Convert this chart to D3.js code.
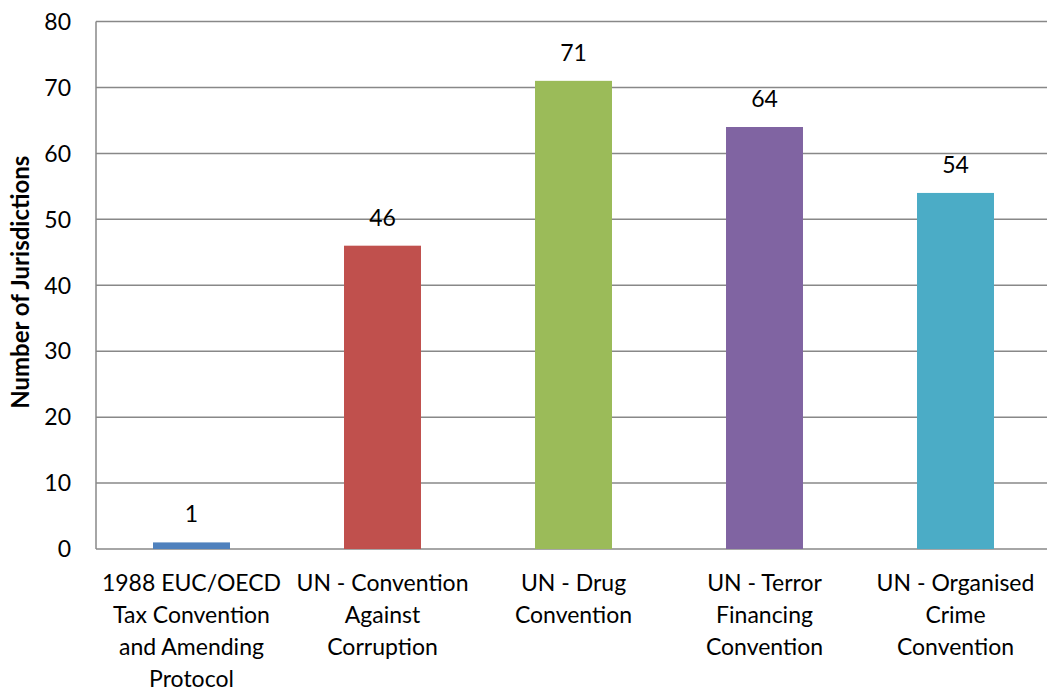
<!DOCTYPE html>
<html>
<head>
<meta charset="utf-8">
<script src="https://cdn.jsdelivr.net/npm/d3@7"></script>
<style>
  body { margin: 0; background: #fff; }
  text { font-family: Lato, "Open Sans", sans-serif; fill: #000; }
</style>
</head>
<body>
<svg id="chart"></svg>
<script>
const categories = [
  ["1988 EUC/OECD", "Tax Convention", "and Amending", "Protocol"],
  ["UN - Convention", "Against", "Corruption"],
  ["UN - Drug", "Convention"],
  ["UN - Terror", "Financing", "Convention"],
  ["UN - Organised", "Crime", "Convention"]
];
const values = [1, 46, 71, 64, 54];
const colors = ["#4f81bd", "#c0504d", "#9bbb59", "#8064a2", "#4bacc6"];
const yTicks = [0, 10, 20, 30, 40, 50, 60, 70, 80];

const width = 1047, height = 690;
const margin = { left: 96, top: 21.5, right: -4, bottom: 141 };

const svg = d3.select("#chart").attr("width", width).attr("height", height);

const x = d3.scaleBand()
  .domain(d3.range(values.length))
  .range([margin.left, width - margin.right])
  .padding(0);

const y = d3.scaleLinear()
  .domain([0, 80])
  .range([height - margin.bottom, margin.top]);

const barW = x.bandwidth() * 0.403;

// Gridlines
svg.append("g")
  .selectAll("line")
  .data(yTicks)
  .enter().append("line")
  .attr("x1", margin.left)
  .attr("x2", width)
  .attr("y1", d => y(d))
  .attr("y2", d => y(d))
  .attr("stroke", "#888")
  .attr("stroke-width", 1.5);

// Y axis line
svg.append("line")
  .attr("x1", margin.left).attr("x2", margin.left)
  .attr("y1", y(80)).attr("y2", y(0))
  .attr("stroke", "#888")
  .attr("stroke-width", 1.5);

// Y tick labels
svg.append("g")
  .selectAll("text")
  .data(yTicks)
  .enter().append("text")
  .attr("x", 71)
  .attr("y", d => y(d))
  .attr("dy", "0.36em")
  .attr("text-anchor", "end")
  .style("font-size", "23px")
  .text(d => d);

// Bars
svg.append("g")
  .selectAll("rect")
  .data(values)
  .enter().append("rect")
  .attr("x", (d, i) => x(i) + (x.bandwidth() - barW) / 2)
  .attr("width", barW)
  .attr("y", d => y(d))
  .attr("height", d => y(0) - y(d))
  .attr("fill", (d, i) => colors[i]);

// Value labels
svg.append("g")
  .selectAll("text")
  .data(values)
  .enter().append("text")
  .attr("x", (d, i) => x(i) + x.bandwidth() / 2)
  .attr("y", d => y(d) - 20)
  .attr("text-anchor", "middle")
  .style("font-size", "23px")
  .text(d => d);

// Category labels
const cat = svg.append("g")
  .selectAll("text")
  .data(categories)
  .enter().append("text")
  .attr("x", (d, i) => x(i) + x.bandwidth() / 2)
  .attr("y", 591)
  .attr("text-anchor", "middle")
  .style("font-size", "23px");

cat.selectAll("tspan")
  .data(d => d)
  .enter().append("tspan")
  .attr("x", function() { return d3.select(this.parentNode).attr("x"); })
  .attr("dy", (d, i) => i === 0 ? 0 : 32)
  .text(d => d);

// Y axis title
svg.append("text")
  .attr("transform", `translate(29, ${(y(0) + y(80)) / 2 - 3}) rotate(-90)`)
  .attr("text-anchor", "middle")
  .style("font-size", "24px")
  .style("font-weight", "bold")
  .text("Number of Jurisdictions");
</script>
</body>
</html>
